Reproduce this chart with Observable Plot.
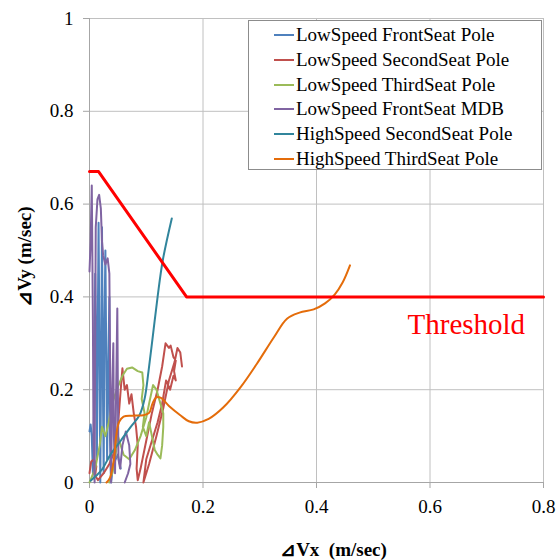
<!DOCTYPE html>
<html>
<head>
<meta charset="utf-8">
<script src="https://cdn.jsdelivr.net/npm/d3@7"></script>
<script src="https://cdn.jsdelivr.net/npm/@observablehq/plot@0.6"></script>
<style>
  body { margin: 0; background: #fff; }
  #wrap { position: relative; width: 559px; height: 560px; font-family: "Liberation Serif", "DejaVu Serif", "Noto Serif", serif; }
  #legend { position: absolute; left: 248px; top: 20px; width: 292px; height: 148px; border: 1px solid #8c8c8c; background: #fff; }
  .row { position: absolute; left: 0; height: 24px; display: flex; align-items: center; font-size: 19px; color: #000; white-space: nowrap; }
  .sw { width: 20px; height: 2px; margin-left: 25px; margin-right: 2px; }
</style>
</head>
<body>
<div id="wrap"></div>
<script>
const seriesNames = [
  "LowSpeed FrontSeat Pole",
  "LowSpeed SecondSeat Pole",
  "LowSpeed ThirdSeat Pole",
  "LowSpeed FrontSeat MDB",
  "HighSpeed SecondSeat Pole",
  "HighSpeed ThirdSeat Pole"
];
const seriesColors = ["#4F81BD", "#C0504D", "#9BBB59", "#8064A2", "#31859C", "#E46C0A"];

const xTicks = [0, 0.2, 0.4, 0.6, 0.8];
const yTicks = [0, 0.2, 0.4, 0.6, 0.8, 1];

const thresholdX = [0, 0.016, 0.171, 0.8];
const thresholdY = [0.67, 0.67, 0.40, 0.40];
const thresholdLabel = "Threshold";

const lowFrontPole = [[0.0,0.11],[0.002,0.125],[0.004,0.1],[0.006,0.02],[0.008,0.15],[0.01,0.45],[0.012,0.3],[0.013,0.05],[0.015,0.4],[0.016,0.56],[0.018,0.2],[0.019,0.0],[0.021,0.35],[0.022,0.55],[0.024,0.15],[0.025,0.02],[0.026,0.3],[0.028,0.5],[0.03,0.2],[0.031,0.05],[0.033,0.25],[0.035,0.4],[0.036,0.1],[0.038,0.0],[0.042,0.04],[0.05,0.06],[0.055,0.03]];

const lowSecondPole = [[0.0,0.02],[0.003,0.045],[0.008,0.05],[0.012,0.035],[0.01,0.015],[0.015,0.005],[0.025,0.02],[0.035,0.04],[0.045,0.07],[0.05,0.12],[0.055,0.2],[0.058,0.246],[0.062,0.2],[0.066,0.21],[0.07,0.17],[0.074,0.19],[0.078,0.149],[0.082,0.12],[0.085,0.08],[0.083,0.03],[0.085,0.005],[0.09,0.03],[0.1,0.09],[0.11,0.15],[0.12,0.2],[0.128,0.25],[0.134,0.3],[0.14,0.29],[0.143,0.295],[0.148,0.27],[0.152,0.263],[0.149,0.24],[0.152,0.22],[0.148,0.23],[0.142,0.2],[0.135,0.22],[0.128,0.17],[0.12,0.13],[0.11,0.09],[0.1,0.05],[0.095,0.0],[0.105,0.04],[0.118,0.1],[0.13,0.16],[0.14,0.22],[0.15,0.26],[0.155,0.29],[0.16,0.28],[0.163,0.25]];

const lowThirdPole = [[0.0,0.0],[0.01,0.03],[0.018,0.08],[0.022,0.12],[0.028,0.1],[0.034,0.13],[0.04,0.17],[0.048,0.2],[0.058,0.23],[0.066,0.245],[0.075,0.248],[0.085,0.24],[0.093,0.237],[0.095,0.21],[0.092,0.18],[0.097,0.15],[0.094,0.12],[0.1,0.1],[0.105,0.13],[0.11,0.1],[0.115,0.07],[0.12,0.06],[0.125,0.052],[0.128,0.08],[0.13,0.12],[0.13,0.149],[0.125,0.17],[0.118,0.2],[0.112,0.21],[0.105,0.17],[0.1,0.14],[0.09,0.1],[0.08,0.07],[0.07,0.05],[0.06,0.06],[0.05,0.1],[0.045,0.05],[0.04,0.02],[0.035,0.0]];

const lowFrontMDB = [[0.0,0.455],[0.002,0.52],[0.004,0.64],[0.006,0.35],[0.007,0.1],[0.009,0.0],[0.01,0.3],[0.011,0.55],[0.014,0.61],[0.017,0.62],[0.02,0.59],[0.022,0.52],[0.024,0.49],[0.028,0.47],[0.032,0.483],[0.035,0.45],[0.036,0.3],[0.037,0.1],[0.038,0.0],[0.04,0.2],[0.042,0.3],[0.043,0.1],[0.045,0.02],[0.047,0.2],[0.049,0.375],[0.05,0.2],[0.051,0.05],[0.054,0.03],[0.058,0.08],[0.064,0.11],[0.07,0.08],[0.072,0.04],[0.068,0.02],[0.062,0.0]];

const highSecondPole = [[0.002,0.004],[0.012,0.015],[0.022,0.028],[0.037,0.06],[0.055,0.09],[0.072,0.119],[0.088,0.145],[0.097,0.18],[0.104,0.24],[0.112,0.32],[0.12,0.4],[0.129,0.478],[0.145,0.569]];

const highThirdPole = [[0.03,0.0],[0.036,0.01],[0.043,0.05],[0.047,0.1],[0.052,0.13],[0.06,0.142],[0.075,0.144],[0.095,0.145],[0.105,0.15],[0.111,0.17],[0.117,0.183],[0.125,0.183],[0.14,0.165],[0.16,0.145],[0.175,0.132],[0.19,0.129],[0.21,0.137],[0.236,0.162],[0.266,0.205],[0.295,0.256],[0.325,0.313],[0.348,0.353],[0.37,0.366],[0.395,0.373],[0.415,0.386],[0.432,0.405],[0.446,0.431],[0.459,0.468]];

const seriesData = [lowFrontPole, lowSecondPole, lowThirdPole, lowFrontMDB, highSecondPole, highThirdPole];

const fmt = d3.format("~g");
const threshold = thresholdX.map((x, i) => ({x, y: thresholdY[i]}));

const lineMarks = seriesData.map((pts, i) =>
  Plot.line(pts, {x: d => d[0], y: d => d[1], stroke: seriesColors[i], strokeWidth: 2,
    curve: i >= 4 ? "catmull-rom" : "linear", strokeLinejoin: "round"})
);

const chart = Plot.plot({
  width: 559,
  height: 560,
  marginLeft: 89,
  marginRight: 16,
  marginTop: 18,
  marginBottom: 78,
  x: {domain: [0, 0.8]},
  y: {domain: [0, 1]},
  style: {fontFamily: "'Liberation Serif', 'DejaVu Serif', 'Noto Serif', serif", fontSize: "19px", color: "#000", background: "#fff"},
  marks: [
    Plot.gridX(xTicks, {stroke: "#c0c0c0", strokeOpacity: 1}),
    Plot.gridY(yTicks, {stroke: "#c0c0c0", strokeOpacity: 1}),
    Plot.ruleX([0], {stroke: "#a6a6a6"}),
    Plot.ruleY([0], {stroke: "#a6a6a6"}),
    Plot.axisX({ticks: xTicks, tickSize: 6, tickFormat: () => "", stroke: "#a6a6a6", label: null}),
    Plot.axisY({ticks: yTicks, tickSize: 6, tickFormat: () => "", stroke: "#a6a6a6", label: null}),
    Plot.axisX({ticks: xTicks, tickSize: 0, tickPadding: 17, tickFormat: fmt, label: null, fill: "#000"}),
    Plot.axisY({ticks: yTicks, tickSize: 0, tickPadding: 16, tickFormat: fmt, label: null, fill: "#000"}),
    ...lineMarks,
    Plot.line(threshold, {x: "x", y: "y", stroke: "#FF0000", strokeWidth: 3}),
    Plot.text([thresholdLabel], {x: 0.664, y: 0.341, fill: "#FF0000", fontSize: 29, textAnchor: "middle"}),
    Plot.text(["⊿Vy (m/sec)"], {frameAnchor: "left", textAnchor: "middle", lineAnchor: "middle", dx: -65, dy: 6, rotate: -90, fontWeight: "bold", fontSize: 19, fill: "#000"}),
    Plot.text(["⊿Vx  (m/sec)"], {frameAnchor: "bottom", textAnchor: "middle", lineAnchor: "middle", dx: 17, dy: 67, fontWeight: "bold", fontSize: 19, fill: "#000"})
  ]
});

const wrap = document.getElementById("wrap");
wrap.appendChild(chart);

const legend = document.createElement("div");
legend.id = "legend";
seriesNames.forEach((name, i) => {
  const row = document.createElement("div");
  row.className = "row";
  row.style.top = (2 + i * 24.8) + "px";
  const sw = document.createElement("span");
  sw.className = "sw";
  sw.style.background = seriesColors[i];
  row.appendChild(sw);
  const t = document.createElement("span");
  t.textContent = name;
  row.appendChild(t);
  legend.appendChild(row);
});
wrap.appendChild(legend);
</script>
</body>
</html>
